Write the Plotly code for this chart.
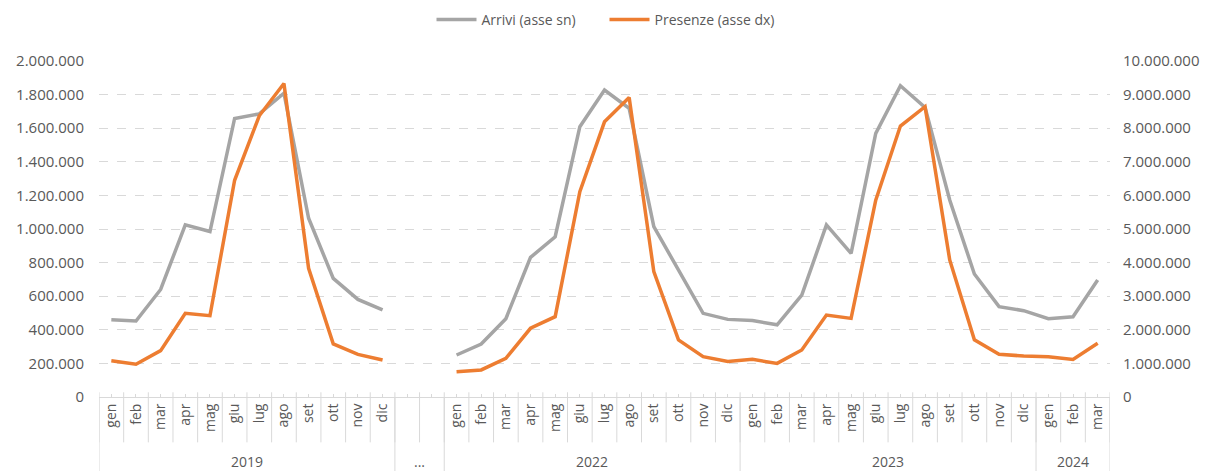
import plotly.graph_objects as go

months = ["gen", "feb", "mar", "apr", "mag", "giu", "lug", "ago", "set", "ott", "nov", "dic"]
years = ["2019", "...", "2022", "2023", "2024"]
year_months = [months, ["", ""], months, months, months[:3]]

arrivi_2019 = [460000, 452000, 640000, 1025000, 985000, 1658000, 1685000, 1808000, 1064000, 706000, 581000, 518000]
arrivi_gap = [None, None]
arrivi_2022 = [250000, 315000, 466000, 831000, 954000, 1609000, 1827000, 1718000, 1014000, 756000, 498000, 462000]
arrivi_2023 = [455000, 430000, 607000, 1024000, 855000, 1569000, 1853000, 1724000, 1173000, 732000, 538000, 514000]
arrivi_2024 = [466000, 478000, 696000]

presenze_2019 = [1080000, 975000, 1380000, 2490000, 2420000, 6450000, 8370000, 9330000, 3830000, 1580000, 1270000, 1100000]
presenze_gap = [None, None]
presenze_2022 = [755000, 805000, 1150000, 2045000, 2390000, 6110000, 8190000, 8910000, 3730000, 1700000, 1200000, 1060000]
presenze_2023 = [1120000, 1000000, 1400000, 2440000, 2340000, 5860000, 8065000, 8640000, 4080000, 1700000, 1270000, 1220000]
presenze_2024 = [1200000, 1120000, 1600000]

arrivi = arrivi_2019 + arrivi_gap + arrivi_2022 + arrivi_2023 + arrivi_2024
presenze = presenze_2019 + presenze_gap + presenze_2022 + presenze_2023 + presenze_2024
labels = [m for g in year_months for m in g]
idx = list(range(len(labels)))

GRAY = "#A5A5A5"
ORANGE = "#ED7D31"
TXT = "#595959"
LINE = "#D9D9D9"
FONT = "Open Sans"

fig = go.Figure()
fig.add_trace(go.Scatter(x=idx, y=arrivi, mode="lines", name="Arrivi (asse sn)",
                         line=dict(color=GRAY, width=3.5), connectgaps=False))
fig.add_trace(go.Scatter(x=idx, y=presenze, mode="lines", name="Presenze (asse dx)",
                         line=dict(color=ORANGE, width=3.5), connectgaps=False, yaxis="y2"))

shapes = []
# month separators (with small tick above the axis)
for i in range(len(labels) + 1):
    shapes.append(dict(type="line", xref="x", yref="paper", x0=i - 0.5, x1=i - 0.5,
                       y0=0.014, y1=-0.135, line=dict(color=LINE, width=1)))
# year group separators and labels
annotations = []
start = 0
bounds = [start]
for y, g in zip(years, year_months):
    end = start + len(g)
    annotations.append(dict(x=(start + end - 1) / 2, y=-0.193, xref="x", yref="paper",
                            text=y, showarrow=False, yanchor="middle",
                            font=dict(family=FONT, size=14, color=TXT)))
    bounds.append(end)
    start = end
for b in bounds:
    shapes.append(dict(type="line", xref="x", yref="paper", x0=b - 0.5, x1=b - 0.5,
                       y0=0, y1=-0.23, line=dict(color=LINE, width=1)))

fig.update_layout(
    width=1205, height=471,
    margin=dict(l=99, r=95, t=61, b=74, autoexpand=False),
    paper_bgcolor="white", plot_bgcolor="white",
    separators=",.",
    font=dict(family=FONT, size=14, color=TXT),
    showlegend=True,
    legend=dict(orientation="h", x=0.5, xanchor="center", y=1.122, yanchor="middle",
                font=dict(family=FONT, size=14, color=TXT), itemwidth=40,
                entrywidth=118, entrywidthmode="pixels"),
    xaxis=dict(range=[-0.5, len(labels) - 0.5], tickmode="array", tickvals=idx, ticktext=labels,
               tickangle=-90, showgrid=False, zeroline=False, showline=True, linecolor=LINE,
               linewidth=1, ticks="inside", ticklen=3, tickcolor=LINE,
               tickfont=dict(family=FONT, size=14, color=TXT)),
    yaxis=dict(range=[0, 2000000], dtick=200000, tickformat=",d", showgrid=True,
               gridcolor=LINE, griddash="dash", gridwidth=1, zeroline=False, showline=False,
               ticklabelstandoff=14, tickfont=dict(family=FONT, size=15, color=TXT)),
    yaxis2=dict(range=[0, 10000000], dtick=1000000, tickformat=",d", overlaying="y",
                side="right", showgrid=False, zeroline=False, showline=False,
                ticklabelstandoff=12, tickfont=dict(family=FONT, size=15, color=TXT)),
    shapes=shapes,
    annotations=annotations,
)

fig.write_html("out.html", config={"displayModeBar": False},
               post_script="document.body.style.margin='0';document.body.style.overflow='hidden';")
